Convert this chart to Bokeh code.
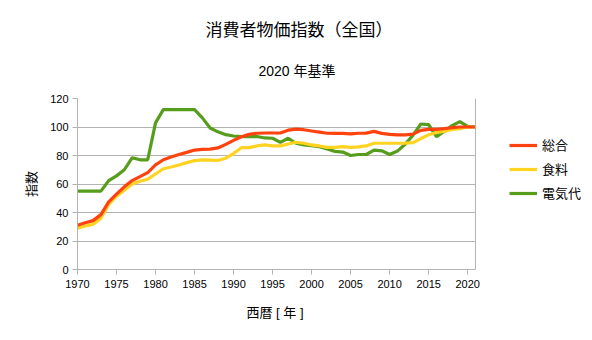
from bokeh.plotting import figure
from bokeh.models import (Range1d, FixedTicker, Title, Legend, LegendItem,
                          BoxAnnotation, Span)
from bokeh.embed import file_html
from bokeh.resources import INLINE

years = [1970, 1971, 1972, 1973, 1974, 1975, 1976, 1977, 1978, 1979,
         1980, 1981, 1982, 1983, 1984, 1985, 1986, 1987, 1988, 1989,
         1990, 1991, 1992, 1993, 1994, 1995, 1996, 1997, 1998, 1999,
         2000, 2001, 2002, 2003, 2004, 2005, 2006, 2007, 2008, 2009,
         2010, 2011, 2012, 2013, 2014, 2015, 2016, 2017, 2018, 2019,
         2020, 2021]

sougou = [31.0, 32.8, 34.3, 38.5, 47.4, 52.9, 58.0, 62.4, 65.2, 68.0,
          73.4, 77.0, 79.0, 80.7, 82.2, 83.8, 84.3, 84.5, 85.3, 87.8,
          90.6, 93.2, 94.8, 95.6, 95.8, 95.8, 95.8, 97.8, 98.5, 98.1,
          97.2, 96.4, 95.6, 95.5, 95.5, 95.2, 95.6, 95.7, 96.9, 95.5,
          94.8, 94.5, 94.5, 95.0, 97.6, 98.3, 98.3, 98.8, 99.5, 100.0,
          100.0, 100.0]

shokuryo = [29.0, 30.5, 31.7, 36.0, 45.7, 51.4, 55.7, 60.0, 61.9, 63.3,
            67.0, 70.7, 71.9, 73.3, 75.0, 76.4, 76.9, 76.7, 76.5, 78.1,
            81.4, 85.5, 85.5, 86.7, 87.4, 86.7, 86.7, 88.1, 89.3, 88.6,
            87.4, 86.7, 85.7, 85.7, 86.2, 85.7, 86.0, 86.7, 88.6, 88.6,
            88.6, 88.6, 88.6, 89.0, 91.9, 94.5, 96.2, 96.9, 98.3, 98.8,
            100.0, 100.0]

denki = [55.0, 55.0, 55.0, 55.0, 62.4, 65.7, 70.0, 78.4, 77.0, 77.0,
         102.9, 112.2, 112.2, 112.2, 112.2, 112.2, 106.4, 99.3, 96.6, 94.6,
         93.7, 93.3, 93.3, 93.3, 92.3, 92.1, 89.2, 92.1, 88.6, 87.4,
         86.9, 86.2, 84.5, 82.9, 82.4, 80.0, 80.7, 80.7, 83.8, 83.3,
         80.7, 83.1, 87.9, 94.3, 102.1, 101.7, 93.3, 96.9, 101.0, 103.8,
         100.4, 100.0]

series_names = ["総合", "食料", "電気代"]
x_ticks = [1970, 1975, 1980, 1985, 1990, 1995, 2000, 2005, 2010, 2015, 2020]
y_ticks = [0, 20, 40, 60, 80, 100, 120]
x_min, x_max = 1970, 2021

FONT = "'Liberation Sans', 'Noto Sans CJK JP', sans-serif"
GRAY = "#b3b3b3"

# frame extends to the right edge of the canvas so that the legend
# (drawn inside the frame area) is not clipped; the part right of x_max is blanked.
p = figure(width=592, height=340, output_backend="svg", toolbar_location=None,
           title=None,
           x_range=Range1d(x_min, 2036), y_range=Range1d(0, 120),
           min_border_left=77, min_border_right=0, min_border_top=98,
           min_border_bottom=71)
p.background_fill_color = "white"
p.border_fill_color = "white"
p.outline_line_color = None

sub = Title(text="2020 年基準", align="left", text_font=FONT,
            text_font_size="14px", text_font_style="normal", text_color="#000000",
            standoff=40, offset=181)
main = Title(text="消費者物価指数（全国）", align="left", text_font=FONT,
             text_font_size="17px", text_font_style="normal", text_color="#000000",
             standoff=2, offset=128)
p.add_layout(sub, "above")
p.add_layout(main, "above")

r_g = p.line(years, denki, line_color="#579d1c", line_width=3.2)
r_y = p.line(years, shokuryo, line_color="#ffd320", line_width=3.2)
r_r = p.line(years, sougou, line_color="#ff420e", line_width=3.2)

for ax in (p.xaxis[0], p.yaxis[0]):
    ax.axis_line_color = GRAY
    ax.major_tick_line_color = GRAY
    ax.major_tick_out = 5
    ax.major_tick_in = 0
    ax.minor_tick_line_color = None
    ax.major_label_text_font = FONT
    ax.major_label_text_font_size = "11px"
    ax.major_label_text_color = "#000000"
    ax.axis_label_text_font = FONT
    ax.axis_label_text_font_size = "13px"
    ax.axis_label_text_font_style = "normal"
    ax.axis_label_text_color = "#000000"
    ax.major_label_standoff = 4

p.xaxis[0].ticker = FixedTicker(ticks=x_ticks)
p.xaxis[0].bounds = (x_min, x_max)
p.xaxis[0].major_label_standoff = 5
p.yaxis[0].ticker = FixedTicker(ticks=y_ticks)
p.yaxis[0].axis_label = "指数"
p.yaxis[0].axis_label_standoff = 8

xlab = Title(text="西暦 [ 年 ]", align="left", text_font=FONT,
             text_font_size="13px", text_font_style="normal", text_color="#000000",
             standoff=25, offset=169)
p.add_layout(xlab, "below")

p.xgrid.grid_line_color = None
p.ygrid.grid_line_color = GRAY
p.ygrid.ticker = FixedTicker(ticks=y_ticks)

# blank the area right of the plot box, then draw its right border
p.add_layout(BoxAnnotation(left=x_max, fill_color="white", fill_alpha=1.0,
                           line_color=None, level="underlay"))
p.add_layout(Span(location=x_max, dimension="height", line_color=GRAY,
                  line_width=1))

legend = Legend(items=[LegendItem(label=series_names[0], renderers=[r_r]),
                       LegendItem(label=series_names[1], renderers=[r_y]),
                       LegendItem(label=series_names[2], renderers=[r_g])],
                location=(432, 67), orientation="vertical",
                border_line_color=None, background_fill_alpha=0,
                label_text_font=FONT, label_text_font_size="13px",
                label_text_color="#000000",
                glyph_width=28, glyph_height=16, label_height=16,
                label_standoff=5, spacing=5, padding=0, margin=0)
p.add_layout(legend, "center")

open("out.html", "w").write(file_html(p, INLINE))
